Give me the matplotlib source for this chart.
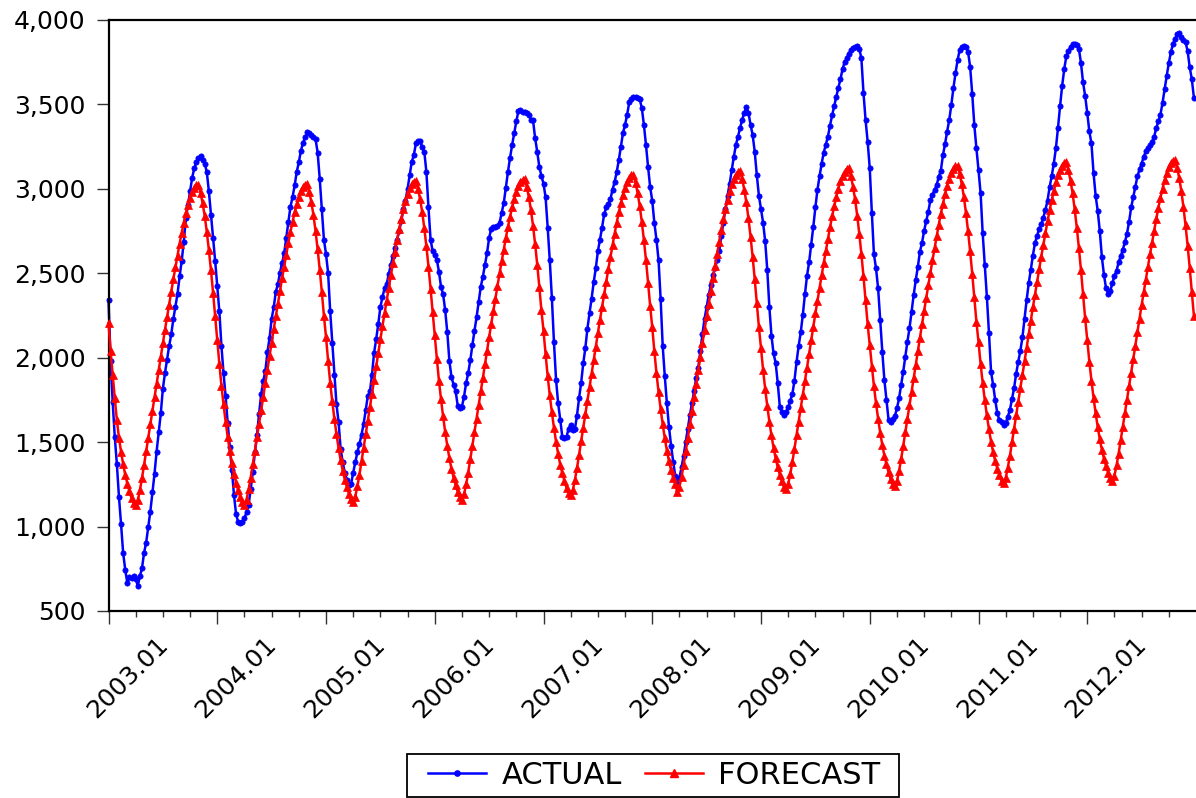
import matplotlib
matplotlib.use("Agg")
import matplotlib.pyplot as plt
from matplotlib.lines import Line2D
from matplotlib.patches import Rectangle
from matplotlib.ticker import StrMethodFormatter, FixedLocator
from matplotlib.transforms import ScaledTranslation
import numpy as np

years = [2003, 2004, 2005, 2006, 2007, 2008, 2009, 2010, 2011, 2012]
tick_labels = ["2003.01", "2004.01", "2005.01", "2006.01", "2007.01",
               "2008.01", "2009.01", "2010.01", "2011.01", "2012.01"]
y_ticks = [500, 1000, 1500, 2000, 2500, 3000, 3500, 4000]
series_names = ["ACTUAL", "FORECAST"]

# ACTUAL (weekly, 52 per year)
a2003 = [2344, 1982, 1737, 1531, 1370, 1176, 1015, 844, 745, 665, 700, 695, 706, 690, 649, 706, 752, 844, 905, 997,
         1089, 1203, 1313, 1444, 1560, 1670, 1817, 1909, 1989, 2069, 2138, 2229, 2303, 2378, 2481, 2573, 2688, 2825,
         2905, 2985, 3065, 3122, 3157, 3184, 3196, 3168, 3150, 3100, 2985, 2848, 2710, 2573]
a2004 = [2424, 2275, 2069, 1909, 1771, 1611, 1473, 1336, 1187, 1073, 1027, 1020, 1027, 1050, 1084, 1130, 1222, 1325,
         1439, 1542, 1668, 1783, 1863, 1920, 2034, 2115, 2229, 2298, 2390, 2436, 2504, 2561, 2619, 2710, 2802, 2894,
         2951, 3020, 3100, 3157, 3226, 3272, 3306, 3334, 3329, 3318, 3306, 3295, 3215, 3060, 2880, 2700]
a2005 = [2614, 2504, 2275, 2090, 1900, 1725, 1620, 1460, 1380, 1320, 1275, 1245, 1250, 1320, 1380, 1440, 1490, 1545,
         1610, 1690, 1775, 1800, 1900, 2030, 2110, 2200, 2300, 2360, 2410, 2435, 2495, 2550, 2600, 2650, 2700, 2750,
         2810, 2880, 2930, 3000, 3080, 3160, 3200, 3270, 3285, 3285, 3245, 3220, 3100, 2890, 2700, 2630]
a2006 = [2610, 2580, 2510, 2420, 2375, 2280, 2150, 1980, 1886, 1840, 1800, 1715, 1702, 1710, 1770, 1850, 1909, 1985,
         2075, 2160, 2240, 2330, 2420, 2480, 2550, 2620, 2710, 2765, 2774, 2774, 2780, 2800, 2859, 2916, 3008, 3100,
         3184, 3260, 3330, 3400, 3460, 3465, 3455, 3455, 3450, 3440, 3410, 3405, 3300, 3220, 3130, 3077]
a2007 = [3031, 2950, 2770, 2577, 2355, 2092, 1870, 1730, 1634, 1530, 1524, 1531, 1580, 1600, 1570, 1576, 1657, 1760,
         1851, 1966, 2057, 2172, 2264, 2350, 2447, 2530, 2630, 2700, 2770, 2850, 2890, 2910, 2940, 2995, 3040, 3100,
         3170, 3250, 3330, 3380, 3440, 3512, 3530, 3546, 3546, 3539, 3530, 3480, 3380, 3260, 3130, 3010]
a2008 = [2930, 2800, 2700, 2580, 2350, 2069, 1890, 1730, 1590, 1480, 1385, 1300, 1262, 1290, 1350, 1420, 1500, 1580,
         1660, 1730, 1800, 1880, 1940, 2040, 2140, 2230, 2300, 2370, 2430, 2490, 2530, 2580, 2630, 2720, 2800, 2880,
         2960, 3030, 3110, 3190, 3260, 3310, 3358, 3410, 3450, 3485, 3450, 3380, 3320, 3220, 3080, 2960]
a2009 = [2880, 2800, 2690, 2520, 2300, 2130, 2025, 1970, 1850, 1710, 1680, 1661, 1680, 1708, 1745, 1785, 1865, 1975,
         2070, 2150, 2255, 2375, 2485, 2565, 2670, 2775, 2890, 2995, 3075, 3150, 3215, 3262, 3310, 3375, 3435, 3490,
         3545, 3600, 3650, 3710, 3750, 3775, 3800, 3822, 3835, 3842, 3846, 3830, 3773, 3569, 3408, 3279]
a2010 = [3122, 2859, 2612, 2529, 2411, 2223, 2036, 1868, 1750, 1631, 1621, 1635, 1655, 1700, 1759, 1838, 1917, 2006,
         2095, 2174, 2273, 2371, 2460, 2539, 2628, 2681, 2752, 2810, 2865, 2934, 2966, 2993, 3023, 3072, 3108, 3200,
         3266, 3339, 3408, 3497, 3596, 3685, 3763, 3822, 3842, 3846, 3838, 3812, 3723, 3562, 3378, 3240]
a2011 = [3112, 2974, 2737, 2549, 2361, 2148, 1917, 1838, 1750, 1670, 1631, 1621, 1601, 1611, 1651, 1690, 1754, 1819,
         1905, 1975, 2040, 2120, 2230, 2340, 2440, 2520, 2605, 2680, 2720, 2765, 2790, 2830, 2876, 2930, 3010, 3075,
         3150, 3240, 3360, 3490, 3610, 3710, 3785, 3815, 3840, 3855, 3858, 3852, 3830, 3745, 3630, 3550]
a2012 = [3450, 3340, 3270, 3095, 2960, 2870, 2750, 2595, 2490, 2410, 2379, 2395, 2440, 2485, 2515, 2565, 2600, 2640,
         2685, 2735, 2805, 2890, 2950, 3013, 3075, 3115, 3150, 3190, 3222, 3240, 3258, 3280, 3310, 3360, 3400, 3440,
         3510, 3590, 3670, 3745, 3810, 3860, 3890, 3915, 3922, 3900, 3882, 3870, 3815, 3720, 3650, 3540]

# FORECAST (weekly, 52 per year)
f2003 = [2205, 2040, 1900, 1760, 1630, 1525, 1443, 1370, 1307, 1255, 1210, 1170, 1138, 1125, 1155, 1215, 1285, 1365,
         1445, 1525, 1605, 1685, 1765, 1845, 1925, 2005, 2085, 2165, 2240, 2315, 2390, 2465, 2535, 2605, 2675, 2740,
         2800, 2855, 2905, 2947, 2981, 3005, 3020, 3025, 2977, 2915, 2840, 2745, 2637, 2517, 2385, 2245]
f2004 = [2105, 1965, 1835, 1723, 1622, 1530, 1448, 1375, 1312, 1260, 1215, 1175, 1143, 1130, 1160, 1220, 1290, 1370,
         1450, 1530, 1610, 1690, 1770, 1850, 1930, 2010, 2090, 2170, 2245, 2320, 2395, 2470, 2540, 2610, 2680, 2745,
         2805, 2860, 2910, 2952, 2986, 3010, 3025, 3030, 2982, 2920, 2845, 2750, 2642, 2522, 2390, 2250]
f2005 = [2123, 1983, 1853, 1741, 1640, 1548, 1466, 1393, 1330, 1278, 1233, 1193, 1161, 1148, 1178, 1238, 1308, 1388,
         1468, 1548, 1628, 1708, 1788, 1868, 1948, 2028, 2108, 2188, 2263, 2338, 2413, 2488, 2558, 2628, 2698, 2763,
         2823, 2878, 2928, 2970, 3004, 3028, 3043, 3048, 3000, 2938, 2863, 2768, 2660, 2540, 2408, 2268]
f2006 = [2135, 1995, 1865, 1753, 1652, 1560, 1478, 1405, 1342, 1290, 1245, 1205, 1173, 1160, 1190, 1250, 1320, 1400,
         1480, 1560, 1640, 1720, 1800, 1880, 1960, 2040, 2120, 2200, 2275, 2350, 2425, 2500, 2570, 2640, 2710, 2775,
         2835, 2890, 2940, 2982, 3016, 3040, 3055, 3060, 3012, 2950, 2875, 2780, 2672, 2552, 2420, 2280]
f2007 = [2160, 2020, 1890, 1778, 1677, 1585, 1503, 1430, 1367, 1315, 1270, 1230, 1198, 1185, 1215, 1275, 1345, 1425,
         1505, 1585, 1665, 1745, 1825, 1905, 1985, 2065, 2145, 2225, 2300, 2375, 2450, 2525, 2595, 2665, 2735, 2800,
         2860, 2915, 2965, 3007, 3041, 3065, 3080, 3085, 3037, 2975, 2900, 2805, 2697, 2577, 2445, 2305]
f2008 = [2180, 2040, 1910, 1798, 1697, 1605, 1523, 1450, 1387, 1335, 1290, 1250, 1205, 1235, 1295, 1365, 1445, 1525,
         1605, 1685, 1765, 1845, 1925, 2005, 2085, 2165, 2245, 2320, 2395, 2470, 2545, 2615, 2685, 2755, 2820, 2880,
         2935, 2985, 3027, 3061, 3085, 3100, 3105, 3057, 2995, 2920, 2825, 2717, 2597, 2465, 2325, 2180]
f2009 = [2057, 1927, 1815, 1714, 1622, 1540, 1467, 1404, 1352, 1307, 1267, 1235, 1222, 1252, 1312, 1382, 1462, 1542,
         1622, 1702, 1782, 1862, 1942, 2022, 2102, 2182, 2262, 2337, 2412, 2487, 2562, 2632, 2702, 2772, 2837, 2897,
         2952, 3002, 3044, 3078, 3102, 3117, 3122, 3074, 3012, 2937, 2842, 2734, 2614, 2482, 2342, 2197]
f2010 = [2073, 1943, 1831, 1730, 1638, 1556, 1483, 1420, 1368, 1323, 1283, 1251, 1238, 1268, 1328, 1398, 1478, 1558,
         1638, 1718, 1798, 1878, 1958, 2038, 2118, 2198, 2278, 2353, 2428, 2503, 2578, 2648, 2718, 2788, 2853, 2913,
         2968, 3018, 3060, 3094, 3118, 3133, 3138, 3090, 3028, 2953, 2858, 2750, 2630, 2498, 2358, 2213]
f2011 = [2093, 1963, 1851, 1750, 1658, 1576, 1503, 1440, 1388, 1343, 1303, 1271, 1258, 1288, 1348, 1418, 1498, 1578,
         1658, 1738, 1818, 1898, 1978, 2058, 2138, 2218, 2298, 2373, 2448, 2523, 2598, 2668, 2738, 2808, 2873, 2933,
         2988, 3038, 3080, 3114, 3138, 3153, 3158, 3110, 3048, 2973, 2878, 2770, 2650, 2518, 2378, 2233]
f2012 = [2107, 1977, 1865, 1764, 1672, 1590, 1517, 1454, 1402, 1357, 1317, 1285, 1272, 1302, 1362, 1432, 1512, 1592,
         1672, 1752, 1832, 1912, 1992, 2072, 2152, 2232, 2312, 2387, 2462, 2537, 2612, 2682, 2752, 2822, 2887, 2947,
         3002, 3052, 3094, 3128, 3152, 3167, 3172, 3124, 3062, 2987, 2892, 2784, 2664, 2532, 2392, 2247]

actual_years = [a2003, a2004, a2005, a2006, a2007, a2008, a2009, a2010, a2011, a2012]
forecast_years = [f2003, f2004, f2005, f2006, f2007, f2008, f2009, f2010, f2011, f2012]
for yr, a, f in zip(years, actual_years, forecast_years):
    assert len(a) == 52, (yr, "actual", len(a))
    assert len(f) == 52, (yr, "forecast", len(f))

actual = [v for yr in actual_years for v in yr]
forecast = [v for yr in forecast_years for v in yr]
weeks_per_year = 52
x = np.arange(len(actual))

plt.rcParams['font.family'] = ['DejaVu Sans']

W, H = 1196, 798
fig = plt.figure(figsize=(W / 100, H / 100), dpi=100)
left_px, right_px, top_px, bottom_px = 108.5, 1196, 20, 611
ax = fig.add_axes([left_px / W, 1 - bottom_px / H, (right_px - left_px) / W, (bottom_px - top_px) / H])

blue = '#0000ff'
red = '#ff0000'
ax.plot(x, actual, color=blue, lw=1.8, marker='o', ms=3.8, mfc=blue, mec=blue, mew=0.5,
        zorder=2, clip_on=False)
ax.plot(x, forecast, color=red, lw=1.8, marker='^', ms=5.2, mfc=red, mec=red, mew=0.5,
        zorder=3, clip_on=False)

ax.set_xlim(0, len(actual))
ax.set_ylim(y_ticks[0], y_ticks[-1])

major_pos = [i * weeks_per_year for i in range(len(years))]
minor_pos = [p for p in range(0, len(actual), 13) if p % weeks_per_year != 0]
ax.xaxis.set_major_locator(FixedLocator(major_pos))
ax.xaxis.set_minor_locator(FixedLocator(minor_pos))
ax.set_xticklabels(tick_labels, rotation=45, ha='center', va='top')
ax.set_yticks(y_ticks)
ax.yaxis.set_major_formatter(StrMethodFormatter('{x:,.0f}'))

ax.tick_params(axis='y', which='major', direction='out', length=9, width=1.0, pad=7.5,
               labelsize=18, color='#333333')
ax.tick_params(axis='x', which='major', direction='out', length=9.5, width=1.0, pad=6,
               labelsize=18, color='#333333')
ax.tick_params(axis='x', which='minor', direction='out', length=4.5, width=1.0, color='#333333')

for s in ['left', 'bottom', 'top']:
    ax.spines[s].set_linewidth(1.6)
    ax.spines[s].set_color('black')
ax.spines['right'].set_visible(False)

shift = ScaledTranslation(0.19, 0, fig.dpi_scale_trans)
for lab in ax.get_xticklabels():
    lab.set_transform(lab.get_transform() + shift)

# legend entries (frame drawn separately to match the boxed look)
handles = [Line2D([], [], color=blue, lw=1.8, marker='o', ms=3.8, mfc=blue, mec=blue),
           Line2D([], [], color=red, lw=1.8, marker='^', ms=5.2, mfc=red, mec=red)]
leg = fig.legend(handles, series_names, loc='center', bbox_to_anchor=(654 / W, 1 - 775.5 / H),
                 ncol=2, frameon=False, fontsize=22, handlelength=1.9, handletextpad=0.5,
                 columnspacing=0.75, borderpad=0.0, borderaxespad=0.0, numpoints=1)
box_x0, box_x1, box_y0, box_y1 = 407, 899, 754, 797
fig.patches.append(Rectangle((box_x0 / W, 1 - box_y1 / H), (box_x1 - box_x0) / W, (box_y1 - box_y0) / H,
                             transform=fig.transFigure, fill=False, edgecolor='black', linewidth=1.3))

fig.savefig('out.png', dpi=100)
